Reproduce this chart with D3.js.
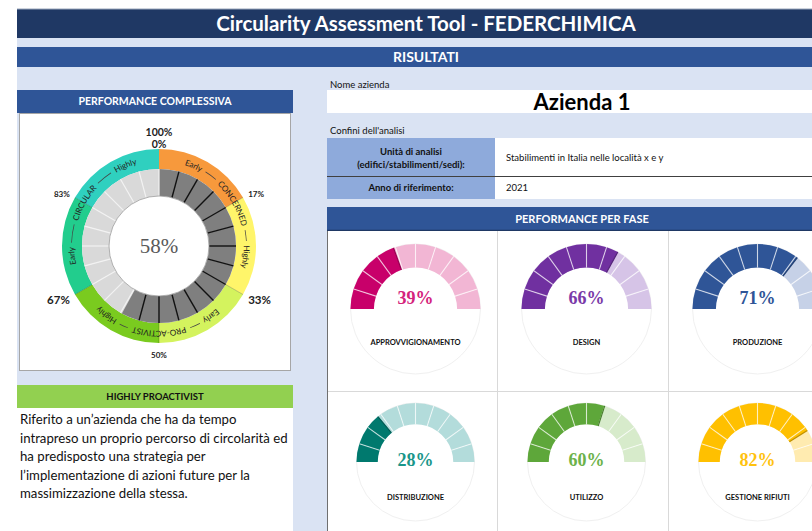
<!DOCTYPE html>
<html>
<head>
<meta charset="utf-8">
<script src="https://cdn.jsdelivr.net/npm/d3@7"></script>
<style>
    body { margin: 0; background: #fff; overflow: hidden; }
    text { font-family: Lato, 'Open Sans', sans-serif; }
</style>
</head>
<body>
<svg id="chart"></svg>
<script>
const W = 812, H = 531;

// ---- data read from the sheet
const title = 'Circularity Assessment Tool - FEDERCHIMICA';
const sectionTitle = 'RISULTATI';
const companyName = 'Azienda 1';
const unitLabel = ['Unità di analisi', '(edifici/stabilimenti/sedi):'];
const unitValue = 'Stabilimenti in Italia nelle località x e y';
const yearLabel = 'Anno di riferimento:';
const yearValue = '2021';

const overallScore = 58;
const overallLevel = 'HIGHLY PROACTIVIST';
const levelDescription = [
    'Riferito a un\u2019azienda che ha da tempo',
    'intrapreso un proprio percorso di circolarità ed',
    'ha predisposto una strategia per',
    'l\u2019implementazione di azioni future per la',
    'massimizzazione della stessa.'
];

const bandEdges = [0, 100 / 6, 200 / 6, 50, 400 / 6, 500 / 6, 100];
const bandColors = ['#f7993c', '#fff56a', '#d4f35e', '#7acb1f', '#22cd8d', '#2fd0bf'];
const edgeLabels = ['0%', '17%', '33%', '50%', '67%', '83%', '100%'];
const levels = ['CONCERNED', 'PRO-ACTIVIST', 'CIRCULAR'];
const subLevels = ['Early', 'Highly'];

const phases = ['APPROVVIGIONAMENTO', 'DESIGN', 'PRODUZIONE', 'DISTRIBUZIONE', 'UTILIZZO', 'GESTIONE RIFIUTI'];
const phaseScores = [39, 66, 71, 28, 60, 82];
const phaseDark = ['#c8006a', '#7030a0', '#2f5597', '#00796e', '#5ea73a', '#ffc000'];
const phaseLight = ['#f2b6d4', '#d6c4e7', '#c6d1e7', '#b3dcdb', '#d7ebcb', '#ffebb0'];
const phaseText = ['#d4237c', '#7a3aa8', '#2f5597', '#1a968a', '#6cb24a', '#ffc20e'];

// ---- palette
const navy = '#1f3864', blue = '#2f5597', pale = '#dae3f3', tableBlue = '#8eaadb', green = '#92d050';

const svg = d3.select('#chart').attr('width', W).attr('height', H);

// page background
svg.append('rect').attr('width', W).attr('height', H).attr('fill', '#fff');
svg.append('rect').attr('x', 17).attr('y', 38).attr('width', W - 17).attr('height', H - 38).attr('fill', pale);

function bar(x, y, w, h, fill, label, opts = {}) {
    svg.append('rect').attr('x', x).attr('y', y).attr('width', w).attr('height', h).attr('fill', fill);
    if (label) {
        svg.append('text')
            .attr('x', opts.cx || x + w / 2)
            .attr('y', y + h / 2)
            .attr('dy', '0.36em')
            .attr('text-anchor', 'middle')
            .attr('font-size', opts.size || 11)
            .attr('font-weight', 'bold')
            .attr('fill', opts.color || '#fff')
            .text(label);
    }
}

// header bars
bar(17, 9, W - 17, 29, navy, title, { size: 20.5, cx: 426 });
svg.append('line').attr('x1', 17).attr('x2', W).attr('y1', 9).attr('y2', 9).attr('stroke', '#9aa6bb');
bar(17, 47, W - 17, 20, blue, sectionTitle, { size: 14, cx: 426 });

// ---- left column: overall performance
bar(17, 90, 276, 23, blue, 'PERFORMANCE COMPLESSIVA', { size: 10.5 });
svg.append('rect').attr('x', 19.5).attr('y', 113.5).attr('width', 271).attr('height', 257)
    .attr('fill', '#fff').attr('stroke', '#a6a6a6');

const cx = 159, cy = 246;
const rHole = 50, rGray = 77, rBand = 97, rText = 87.5;
const ang = d3.scaleLinear().domain([0, 100]).range([0, 2 * Math.PI]);
const donut = svg.append('g').attr('transform', `translate(${cx},${cy})`);

// outer coloured bands
const bandArc = d3.arc().innerRadius(rGray).outerRadius(rBand);
donut.selectAll('path.band')
    .data(bandColors)
    .join('path')
    .attr('class', 'band')
    .attr('d', (c, i) => bandArc({ startAngle: ang(bandEdges[i]), endAngle: ang(bandEdges[i + 1]) }))
    .attr('fill', c => c);

donut.selectAll('line.edge')
    .data(bandEdges.slice(1, 6))
    .join('line')
    .attr('x1', v => rGray * Math.sin(ang(v)))
    .attr('y1', v => -rGray * Math.cos(ang(v)))
    .attr('x2', v => rBand * Math.sin(ang(v)))
    .attr('y2', v => -rBand * Math.cos(ang(v)))
    .attr('stroke', 'rgba(0,0,0,0.3)')
    .attr('stroke-width', 0.7);

// gray score ring: 24 slices, dark up to the score
const nSeg = 24;
const segs = d3.range(nSeg).map(i => ({ a0: i * 100 / nSeg, a1: (i + 1) * 100 / nSeg }));
const grayArc = d3.arc().innerRadius(rHole).outerRadius(rGray);
donut.selectAll('path.light')
    .data(segs)
    .join('path')
    .attr('class', 'light')
    .attr('d', d => grayArc({ startAngle: ang(d.a0), endAngle: ang(d.a1) }))
    .attr('fill', '#d9d9d9');
donut.selectAll('path.dark')
    .data(segs.filter(d => d.a0 < overallScore))
    .join('path')
    .attr('class', 'dark')
    .attr('d', d => grayArc({ startAngle: ang(d.a0), endAngle: ang(Math.min(d.a1, overallScore)) }))
    .attr('fill', '#7f7f7f');
donut.selectAll('line.sep')
    .data(segs)
    .join('line')
    .attr('class', 'sep')
    .attr('x1', d => rHole * Math.sin(ang(d.a0)))
    .attr('y1', d => -rHole * Math.cos(ang(d.a0)))
    .attr('x2', d => rGray * Math.sin(ang(d.a0)))
    .attr('y2', d => -rGray * Math.cos(ang(d.a0)))
    .attr('stroke', d => d.a0 > 0 && d.a0 <= overallScore ? '#111' : '#f2f2f2')
    .attr('stroke-width', d => d.a0 > 0 && d.a0 <= overallScore ? 1.4 : 1.2);

donut.append('circle').attr('r', rHole).attr('fill', '#fff').attr('stroke', '#9a9a9a').attr('stroke-width', 0.8);
donut.append('text')
    .attr('dy', '0.35em')
    .attr('text-anchor', 'middle')
    .style('font-family', "'Liberation Serif', 'DejaVu Serif', serif")
    .attr('font-size', 21)
    .attr('fill', '#595959')
    .text(overallScore + '%');

// level names along the band ring
const ringPath = `M0,${-rText}A${rText},${rText} 0 1,1 0,${rText}A${rText},${rText} 0 1,1 0,${-rText}`;
donut.append('path').attr('id', 'ringPath').attr('d', ringPath).attr('fill', 'none');
const circ = 2 * Math.PI * rText;
const words = [];
levels.forEach((name, k) => {
    const s = bandEdges[2 * k];
    words.push({ text: subLevels[0], pos: s + 6.5, k });
    words.push({ text: name, pos: s + 16.67, k });
    words.push({ text: subLevels[1], pos: s + 27, k });
});
const wordText = donut.selectAll('text.word')
    .data(words)
    .join('text')
    .attr('class', 'word')
    .attr('font-size', 8.2)
    .attr('fill', '#222')
    .attr('dy', '0.33em');
wordText.append('textPath')
    .attr('href', '#ringPath')
    .attr('startOffset', d => d.pos + '%')
    .attr('text-anchor', 'middle')
    .text(d => d.text);
wordText.each(function (d) {
    d.half = this.getComputedTextLength() / circ * 100 / 2;
});
const linkArc = d3.arc().innerRadius(rText - 0.35).outerRadius(rText + 0.35);
const links = [];
levels.forEach((name, k) => {
    const w = words.filter(d => d.k === k);
    for (let j = 0; j < 2; j++) {
        links.push({ a0: w[j].pos + w[j].half + 0.8, a1: w[j + 1].pos - w[j + 1].half - 0.8 });
    }
});
donut.selectAll('path.link')
    .data(links)
    .join('path')
    .attr('class', 'link')
    .attr('d', d => linkArc({ startAngle: ang(d.a0), endAngle: ang(d.a1) }))
    .attr('fill', '#444');

// percentage labels round the ring
const labelData = edgeLabels.map((t, i) => ({ t, v: i * 100 / 6, i }));
donut.selectAll('text.edge')
    .data(labelData.filter(d => d.i > 0 && d.i < 6))
    .join('text')
    .attr('class', 'edge')
    .attr('x', d => 103 * Math.sin(ang(d.v)))
    .attr('y', d => -103 * Math.cos(ang(d.v)) + (d.i === 3 ? 6 : d.i === 1 || d.i === 5 ? 0 : 2))
    .attr('dy', '0.35em')
    .attr('text-anchor', d => d.i === 3 ? 'middle' : d.i < 3 ? 'start' : 'end')
    .attr('font-size', d => d.i === 2 || d.i === 4 ? 11.5 : 8)
    .attr('font-weight', 'bold')
    .attr('fill', '#222')
    .text(d => d.t);
donut.selectAll('text.top')
    .data([labelData[6], labelData[0]])
    .join('text')
    .attr('class', 'top')
    .attr('y', (d, j) => -rBand - 13 + j * 12)
    .attr('text-anchor', 'middle')
    .attr('font-size', 10.5)
    .attr('font-weight', 'bold')
    .attr('fill', '#222')
    .text(d => d.t);

// level box
bar(17, 385, 276, 23, green, overallLevel, { size: 9.5, color: '#111' });
svg.append('rect').attr('x', 17).attr('y', 408).attr('width', 276).attr('height', H - 408).attr('fill', '#fff');
svg.selectAll('text.desc')
    .data(levelDescription)
    .join('text')
    .attr('class', 'desc')
    .attr('x', 20)
    .attr('y', (d, i) => 424 + i * 18.5)
    .attr('font-size', 13.2)
    .attr('fill', '#111')
    .text(d => d);

// ---- right column: company info
const rx = 327, rc = 582;
svg.append('text').attr('x', 330).attr('y', 88).attr('font-size', 9.5).attr('fill', '#111').text('Nome azienda');
svg.append('rect').attr('x', rx).attr('y', 90).attr('width', W - rx).attr('height', 23).attr('fill', '#fff');
svg.append('text').attr('x', rc).attr('y', 102).attr('dy', '0.36em').attr('text-anchor', 'middle')
    .attr('font-size', 22).attr('font-weight', 'bold').attr('fill', '#000').text(companyName);
svg.append('text').attr('x', 330).attr('y', 134).attr('font-size', 9.5).attr('fill', '#111').text('Confini dell\'analisi');

svg.append('rect').attr('x', rx).attr('y', 138).attr('width', 168).attr('height', 61).attr('fill', tableBlue);
svg.append('rect').attr('x', 495).attr('y', 138).attr('width', W - 495).attr('height', 61).attr('fill', '#fff');
svg.append('line').attr('x1', rx).attr('x2', W).attr('y1', 176.5).attr('y2', 176.5).attr('stroke', '#404040');
svg.selectAll('text.unit')
    .data(unitLabel)
    .join('text')
    .attr('class', 'unit')
    .attr('x', 411)
    .attr('y', (d, i) => 152 + i * 13)
    .attr('dy', '0.35em')
    .attr('text-anchor', 'middle')
    .attr('font-size', 9.5)
    .attr('font-weight', 'bold')
    .attr('fill', '#111')
    .text(d => d);
svg.append('text').attr('x', 411).attr('y', 188).attr('dy', '0.35em').attr('text-anchor', 'middle')
    .attr('font-size', 9.5).attr('font-weight', 'bold').attr('fill', '#111').text(yearLabel);
svg.append('text').attr('x', 506).attr('y', 158).attr('dy', '0.35em').attr('font-size', 9.5).attr('fill', '#111').text(unitValue);
svg.append('text').attr('x', 506).attr('y', 188).attr('dy', '0.35em').attr('font-size', 9.5).attr('fill', '#111').text(yearValue);

// ---- phase gauges
bar(rx, 207, W - rx, 24, blue, 'PERFORMANCE PER FASE', { size: 11, cx: rc });
svg.append('line').attr('x1', rx).attr('x2', W).attr('y1', 230.5).attr('y2', 230.5).attr('stroke', navy).attr('stroke-width', 1.5);

const cellW = 171, gridY = 231, rowH = 160;
const col = d3.scaleBand().domain([0, 1, 2]).range([rx, rx + 3 * cellW]);
svg.append('rect').attr('x', rx).attr('y', gridY).attr('width', W - rx).attr('height', H - gridY).attr('fill', '#fff');
svg.selectAll('line.vgrid')
    .data([1, 2])
    .join('line')
    .attr('x1', d => col(d) - 0.5).attr('x2', d => col(d) - 0.5)
    .attr('y1', gridY).attr('y2', H)
    .attr('stroke', '#d9d9d9');
svg.append('line').attr('x1', rx).attr('x2', W).attr('y1', gridY + rowH + 0.5).attr('y2', gridY + rowH + 0.5).attr('stroke', '#d9d9d9');
svg.append('line').attr('x1', rx + 0.5).attr('x2', rx + 0.5).attr('y1', gridY).attr('y2', H).attr('stroke', '#6f6f6f');

const nTick = 10;
phases.forEach((name, i) => {
    const row = Math.floor(i / 3);
    const R = row === 0 ? 65 : 59;
    const gx = col(i % 3) + cellW / 2 + 3;
    const gy = gridY + rowH * row + (row === 0 ? 78 : 71);
    const g = svg.append('g').attr('transform', `translate(${gx},${gy})`);
    const gArc = d3.arc().innerRadius(R * 0.64).outerRadius(R);
    const gAng = d3.scaleLinear().domain([0, 100]).range([-Math.PI / 2, Math.PI / 2]);
    const score = phaseScores[i];
    const slices = d3.range(nTick).map(k => ({ a0: k * 100 / nTick, a1: (k + 1) * 100 / nTick }));

    g.append('circle').attr('r', R).attr('fill', 'none').attr('stroke', '#f0f0f0');
    g.selectAll('path.gl')
        .data(slices)
        .join('path')
        .attr('d', d => gArc({ startAngle: gAng(d.a0), endAngle: gAng(d.a1) }))
        .attr('fill', phaseLight[i]);
    g.selectAll('path.gd')
        .data(slices.filter(d => d.a0 < score))
        .join('path')
        .attr('d', d => gArc({ startAngle: gAng(d.a0), endAngle: gAng(Math.min(d.a1, score)) }))
        .attr('fill', phaseDark[i]);
    g.selectAll('line.gs')
        .data(slices.slice(1))
        .join('line')
        .attr('x1', d => R * 0.64 * Math.sin(gAng(d.a0)))
        .attr('y1', d => -R * 0.64 * Math.cos(gAng(d.a0)))
        .attr('x2', d => R * Math.sin(gAng(d.a0)))
        .attr('y2', d => -R * Math.cos(gAng(d.a0)))
        .attr('stroke', 'rgba(255,255,255,0.7)')
        .attr('stroke-width', 1.1);
    g.append('line')
        .attr('x1', R * 0.64 * Math.sin(gAng(score)))
        .attr('y1', -R * 0.64 * Math.cos(gAng(score)))
        .attr('x2', R * Math.sin(gAng(score)))
        .attr('y2', -R * Math.cos(gAng(score)))
        .attr('stroke', d3.color(phaseDark[i]).darker(0.8))
        .attr('stroke-width', 1.2);

    g.append('text')
        .attr('y', row === 0 ? -11 : -2)
        .attr('dy', '0.35em')
        .attr('text-anchor', 'middle')
        .style('font-family', "'Liberation Serif', 'DejaVu Serif', serif")
        .attr('font-size', 18)
        .attr('font-weight', 'bold')
        .attr('fill', phaseText[i])
        .text(score + '%');
    g.append('text')
        .attr('y', row === 0 ? 33 : 35)
        .attr('dy', '0.35em')
        .attr('text-anchor', 'middle')
        .attr('font-size', 7.5)
        .attr('font-weight', 'bold')
        .attr('fill', '#111')
        .text(name);
});
</script>
</body>
</html>
